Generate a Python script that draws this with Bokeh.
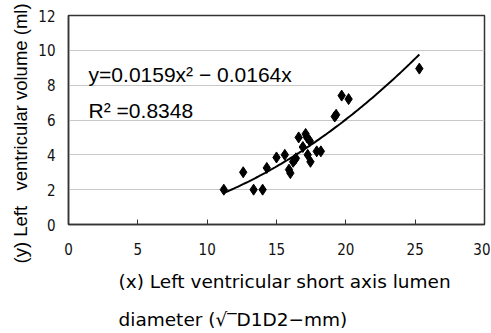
import numpy as np
from bokeh.plotting import figure
from bokeh.models import Label, ColumnDataSource, Title
from bokeh.embed import file_html
from bokeh.resources import INLINE

# data
x_vals = [11.2, 12.6, 13.35, 14.0, 14.3, 15.0, 15.6, 15.9, 16.0, 16.2, 16.4, 16.6,
          16.9, 17.1, 17.25, 17.4, 17.45, 17.9, 18.2, 19.2, 19.3, 19.7, 20.2, 25.3,
          16.3, 17.2]
y_vals = [2.0, 3.0, 2.0, 2.0, 3.25, 3.85, 4.0, 3.15, 2.95, 3.6, 3.8, 5.0,
          4.45, 5.2, 4.0, 4.8, 3.6, 4.2, 4.2, 6.2, 6.3, 7.4, 7.2, 8.95,
          3.7, 5.0]
fit_a = 0.0159
fit_b = -0.0164
fit_x_start = 11.2
fit_x_end = 25.3
x_ticks = [0, 5, 10, 15, 20, 25, 30]
y_ticks = [0, 2, 4, 6, 8, 10, 12]
equation_text = "y=0.0159x² − 0.0164x"
r2_text = "R² =0.8348"
x_title_1 = "(x) Left ventricular short axis lumen"
x_title_2 = "diameter (√‾D1D2−mm)"
y_title = "(y) Left\u00a0\u00a0 ventricular volume (ml)"

TICKFONT = "Liberation Sans Narrow, DejaVu Sans Condensed, sans-serif"

p = figure(width=490, height=332, x_range=(0, 30), y_range=(0, 12),
           output_backend="svg", toolbar_location=None,
           min_border_left=68, min_border_top=15, min_border_bottom=108, min_border_right=6)
p.background_fill_color = "white"
p.border_fill_color = "white"
p.outline_line_color = "#333333"
p.outline_line_width = 1.5

p.xgrid.grid_line_color = None
p.ygrid.grid_line_color = "#c8c8c8"
p.ygrid.grid_line_width = 1

p.xaxis.ticker = x_ticks
p.yaxis.ticker = y_ticks
for ax in (p.xaxis, p.yaxis):
    ax.axis_line_color = "#333333"
    ax.axis_line_width = 1.5
    ax.minor_tick_line_color = None
    ax.major_label_text_font = TICKFONT
    ax.major_label_text_font_size = "15px"
    ax.major_label_text_color = "#111111"
    ax.major_tick_line_color = "#333333"
p.xaxis.major_tick_in = 5
p.xaxis.major_tick_out = 0
p.xaxis.major_label_standoff = 18
p.yaxis.major_tick_in = 0
p.yaxis.major_tick_out = 0
p.yaxis.major_label_standoff = 13

# trend line from displayed equation
xf = np.linspace(fit_x_start, fit_x_end, 100)
yf = fit_a * xf ** 2 + fit_b * xf
p.line(xf, yf, line_color="black", line_width=2)

src = ColumnDataSource(dict(x=x_vals, y=y_vals))
p.scatter("x", "y", source=src, marker="diamond", size=11, fill_color="black", line_color="black")

p.add_layout(Label(x=1.45, y=8.6, text=equation_text, text_font="Liberation Sans", text_font_size="21px",
                   text_color="black", text_baseline="alphabetic"))
p.add_layout(Label(x=1.45, y=6.55, text=r2_text, text_font="Liberation Sans", text_font_size="21px",
                   text_color="black", text_baseline="alphabetic"))

t1 = Title(text=x_title_1, align="left", offset=50, standoff=23, padding=0, text_font="DejaVu Sans",
           text_font_size="18.5px", text_font_style="normal", text_color="black")
t2 = Title(text=x_title_2, align="left", offset=50, standoff=6, padding=0, text_line_height=0.75,
           text_font="DejaVu Sans",
           text_font_size="18.5px", text_font_style="normal", text_color="black")
p.add_layout(t1, "below")
p.add_layout(t2, "below")
ty = Title(text=y_title, align="left", offset=-39, text_font="Liberation Sans", text_font_size="18.5px",
           text_font_style="normal", text_color="black")
p.add_layout(ty, "left")

open("out.html", "w").write(file_html(p, INLINE))
